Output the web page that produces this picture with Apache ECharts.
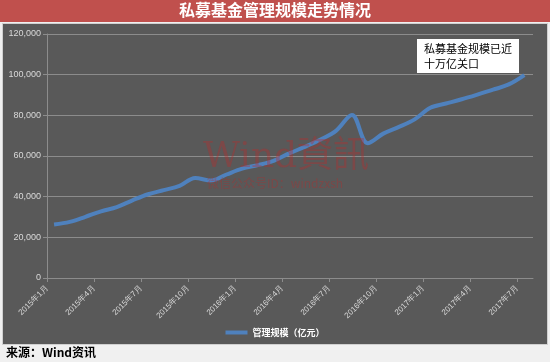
<!DOCTYPE html>
<html><head><meta charset="utf-8">
<script src="https://cdn.jsdelivr.net/npm/echarts@6/dist/echarts.min.js"></script>
<style>html,body{margin:0;padding:0;background:#f0f0f0;}#c{width:550px;height:362px;}</style>
</head><body><div id="c"></div>
<script>
// Data (亿元), monthly readings 2015-01 .. 2017-07
var months = ['2015-01','2015-02','2015-03','2015-04','2015-05','2015-06','2015-07','2015-08','2015-09','2015-10','2015-11','2015-12',
              '2016-01','2016-02','2016-03','2016-04','2016-05','2016-06','2016-07','2016-08','2016-09','2016-10','2016-11','2016-12',
              '2017-01','2017-02','2017-03','2017-04','2017-05','2017-06','2017-07'];
var values = [26300,27600,30100,32800,34900,38200,41200,43200,45300,49200,47900,50900,
              53800,55500,57600,61300,64500,68100,72500,80200,66300,71000,74300,78000,
              83700,85800,87900,90200,92600,95200,99800];
var xTickLabels = ['2015年1月','2015年4月','2015年7月','2015年10月','2016年1月','2016年4月','2016年7月','2016年10月','2017年1月','2017年4月','2017年7月'];
var yTicks = [0,20000,40000,60000,80000,100000,120000];
var titleText = '私募基金管理规模走势情况';
var seriesName = '管理规模（亿元）';
var noteLines = ['私募基金规模已近','十万亿关口'];
var sourceText = '来源：Wind资讯';

// month index relative to 2015-01, readings placed mid-month
function monthIndex(s){ var p=s.split('-'); return (parseInt(p[0])-2015)*12 + parseInt(p[1])-1; }
var readingOffset = 0.45;
var lineData = months.map(function(m,i){ return [monthIndex(m)+readingOffset, values[i]]; });
var tickPos = xTickLabels.map(function(t){ var y=parseInt(t); var mo=parseInt(t.split('年')[1]); return (y-2015)*12+mo-1; });
var labelMap = {}; tickPos.forEach(function(p,i){ labelMap[p]=xTickLabels[i]; });

var chart = echarts.init(document.getElementById('c'), null, {renderer:'canvas'});
chart.setOption({
  backgroundColor:'#f0f0f0',
  animation:false,
  graphic:[
    {type:'rect', z:-10, shape:{x:0,y:0,width:550,height:22}, style:{fill:'#c0504d'}},
    {type:'text', z:-9, left:'center', top:2, style:{text:titleText, fill:'#ffffff', font:'bold 16px "Noto Sans CJK SC"', textAlign:'center'}, x:-10},
    {type:'rect', z:-10, shape:{x:2.5,y:23.5,width:545,height:321}, style:{fill:'#595959', stroke:'#d0d0d0', lineWidth:1}},
    {type:'text', z:-9, left:6, top:346, style:{text:sourceText, fill:'#000000', font:'bold 12px "Noto Sans CJK SC"'}},
    {type:'rect', z:20, shape:{x:417,y:39,width:102,height:34}, style:{fill:'#ffffff'}},
    {type:'text', z:21, left:424, top:41, style:{text:noteLines.join('\n'), fill:'#000000', font:'11px "Noto Sans CJK SC"', lineHeight:15}},
    {type:'text', z:30, left:203, top:140, style:{text:'Wind資訊', fill:'rgba(190,40,40,0.35)', font:'36px "DejaVu Serif", "Noto Sans CJK TC"'}},
    {type:'text', z:30, left:207, top:177, style:{text:'微信公众号ID：windzxsh', fill:'rgba(190,40,40,0.35)', font:'12px "Noto Sans CJK SC"'}}
  ],
  grid:{left:47, right:17, top:34, bottom:84},
  legend:{
    bottom:20, left:'center', itemWidth:22, itemHeight:4, icon:'rect',
    textStyle:{color:'#ffffff', fontSize:9, fontWeight:'bold', fontFamily:'"Noto Sans CJK SC"'},
    data:[seriesName]
  },
  xAxis:{
    type:'value', min:0, max:31,
    axisLine:{show:true, lineStyle:{color:'#8c8c8c'}},
    axisTick:{show:true, length:4, customValues:tickPos, lineStyle:{color:'#8c8c8c'}},
    splitLine:{show:false},
    axisLabel:{customValues:tickPos, rotate:45, color:'#d9d9d9', fontSize:8, fontFamily:'"Liberation Sans", Arial, sans-serif', margin:9,
      formatter:function(v){ return labelMap[Math.round(v)] || ''; }}
  },
  yAxis:{
    type:'value', min:yTicks[0], max:yTicks[yTicks.length-1], interval:yTicks[1]-yTicks[0],
    axisLine:{show:true, lineStyle:{color:'#8c8c8c'}},
    axisTick:{show:true, length:4, lineStyle:{color:'#8c8c8c'}},
    splitLine:{show:true, lineStyle:{color:'#8c8c8c', width:1}},
    axisLabel:{color:'#d9d9d9', fontSize:9, fontFamily:'"Liberation Sans", Arial, sans-serif', margin:6,
      formatter:function(v){ return v.toLocaleString('en-US'); }}
  },
  series:[{
    name:seriesName, type:'line', data:lineData, smooth:0.35, showSymbol:false,
    lineStyle:{color:'#4f81bd', width:4}, itemStyle:{color:'#4f81bd'}, z:5
  }]
});
</script></body></html>
